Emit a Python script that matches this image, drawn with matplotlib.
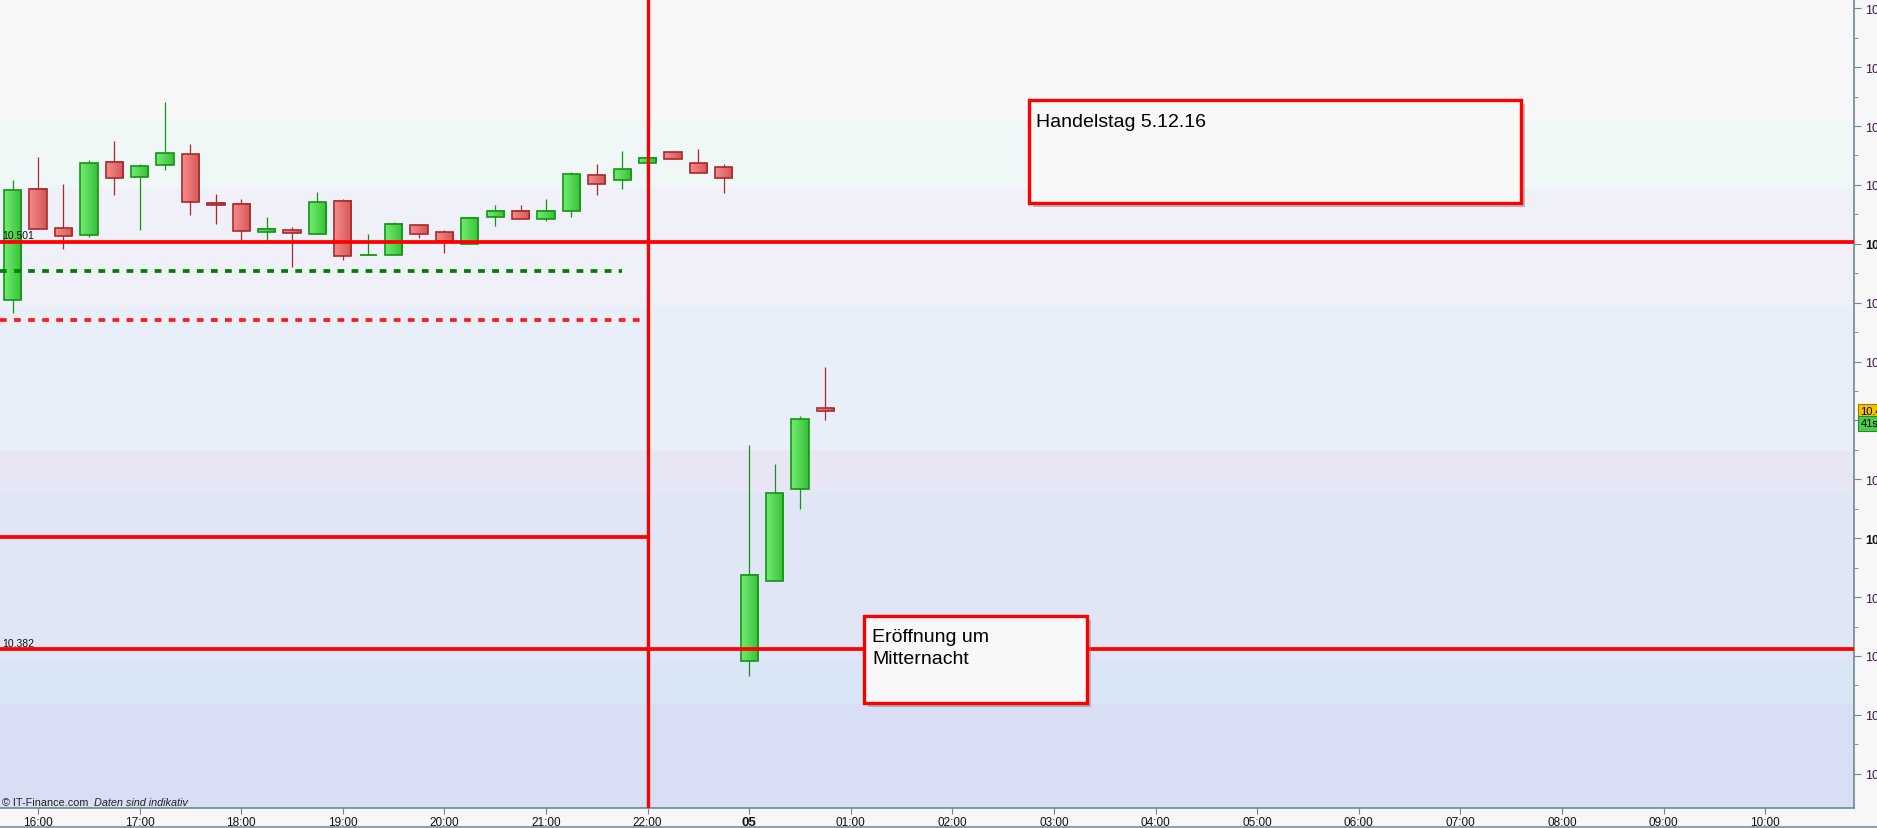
import matplotlib.pyplot as plt
import matplotlib.patheffects as pe
from matplotlib.patches import Rectangle
from matplotlib.lines import Line2D
from matplotlib import transforms
from matplotlib.colors import to_rgb
import numpy as np

plt.rcParams['font.family'] = ['Liberation Sans', 'DejaVu Sans']

# 15 minute candles (the 23:00 hour is skipped by the chart)
times = ['15:45', '16:00', '16:15', '16:30', '16:45', '17:00', '17:15', '17:30', '17:45',
         '18:00', '18:15', '18:30', '18:45', '19:00', '19:15', '19:30', '19:45',
         '20:00', '20:15', '20:30', '20:45', '21:00', '21:15', '21:30', '21:45',
         '22:00', '22:15', '22:30', '22:45', '00:00', '00:15', '00:30', '00:45']
opens = [10.4839, 10.5164, 10.5049, 10.5031, 10.5242, 10.5198, 10.5233, 10.5265, 10.5122,
         10.5119, 10.5037, 10.5043, 10.5033, 10.5128, 10.4971, 10.4970, 10.5058,
         10.5037, 10.5002, 10.5081, 10.5101, 10.5075, 10.5099, 10.5204, 10.5189,
         10.5239, 10.5271, 10.5239, 10.5227, 10.3784, 10.4018, 10.4287, 10.4523]
highs = [10.5190, 10.5257, 10.5178, 10.5249, 10.5304, 10.5236, 10.5418, 10.5295, 10.5149,
         10.5135, 10.5082, 10.5053, 10.5155, 10.5135, 10.5032, 10.5067, 10.5062,
         10.5044, 10.5082, 10.5117, 10.5117, 10.5135, 10.5213, 10.5237, 10.5275,
         10.5256, 10.5271, 10.5281, 10.5237, 10.4416, 10.4361, 10.4500, 10.4644]
lows = [10.4802, 10.5046, 10.4990, 10.5025, 10.5147, 10.5045, 10.5220, 10.5089, 10.5063,
        10.5013, 10.5013, 10.4937, 10.5033, 10.4957, 10.4971, 10.4970, 10.5022,
        10.4978, 10.5002, 10.5057, 10.5075, 10.5071, 10.5083, 10.5147, 10.5165,
        10.5239, 10.5252, 10.5212, 10.5153, 10.3742, 10.4018, 10.4230, 10.4490]
closes = [10.5160, 10.5046, 10.5028, 10.5239, 10.5195, 10.5230, 10.5268, 10.5125, 10.5116,
          10.5040, 10.5046, 10.5036, 10.5125, 10.4967, 10.4972, 10.5061, 10.5034,
          10.5013, 10.5078, 10.5099, 10.5075, 10.5101, 10.5207, 10.5180, 10.5221,
          10.5256, 10.5252, 10.5212, 10.5195, 10.4038, 10.4275, 10.4491, 10.4515]

# horizontal levels
level_top = 10.501
level_mid = 10.4149
level_low = 10.382
green_dash = 10.4925
red_dash = 10.4780

xtick_labels = ['16:00', '17:00', '18:00', '19:00', '20:00', '21:00', '22:00', '05',
                '01:00', '02:00', '03:00', '04:00', '05:00', '06:00', '07:00', '08:00',
                '09:00', '10:00']
ytick_vals = [10.5692, 10.5520, 10.5348, 10.5176, 10.5004, 10.4832, 10.4660, 10.4488,
              10.4316, 10.4144, 10.3972, 10.3800, 10.3628, 10.3456]

W, H = 1877, 829
fig = plt.figure(figsize=(W / 100, H / 100), dpi=100, facecolor='#f7f7f7')
ax = fig.add_axes([0, 20 / H, 1854 / W, 809 / H])
ax.set_facecolor('#f7f7f7')

# background bands (pixel rows of the plot area)
band_edges = [0, 123, 189, 307, 452, 493, 661, 705, 809]
band_cols = ['#f7f7f7', '#f0f7f7', '#f0f0f8', '#e9eff8', '#e8e6f5', '#e0e6f5', '#d9e6f5', '#d8dff5']
for i in range(len(band_cols)):
    y0 = 1 - band_edges[i + 1] / 809
    y1 = 1 - band_edges[i] / 809
    ax.add_patch(Rectangle((0, y0), 1, y1 - y0, transform=ax.transAxes,
                           facecolor=band_cols[i], edgecolor='none', zorder=0))


def grad(c1, c2, n=24):
    a = np.linspace(0, 1, n)[None, :, None]
    return (1 - a) * np.array(to_rgb(c1))[None, None, :] + a * np.array(to_rgb(c2))[None, None, :]


g_grad = grad('#70ec70', '#38c038')
r_grad = grad('#f78a8a', '#d45656')
bw = 0.68
for i in range(len(times)):
    o, h, l, c = opens[i], highs[i], lows[i], closes[i]
    up = c >= o
    ec = '#149414' if up else '#a82a2a'
    ax.vlines(i, l, h, color=ec, lw=0.9, zorder=2)
    lo, hi = min(o, c), max(o, c)
    if hi - lo < 0.0003:
        ax.hlines(lo, i - bw / 2, i + bw / 2, color=ec, lw=1.3, zorder=3)
        continue
    ax.imshow(g_grad if up else r_grad, extent=(i - bw / 2, i + bw / 2, lo, hi),
              aspect='auto', interpolation='bilinear', zorder=3)
    ax.add_patch(Rectangle((i - bw / 2, lo), bw, hi - lo, fill=False, edgecolor=ec, lw=1.2, zorder=4))

# levels and separator
ax.axhline(level_top, color='#ff0000', lw=2.7, zorder=5)
ax.axhline(level_low, color='#ff0000', lw=2.7, zorder=5)
ax.hlines(level_mid, -0.5, 25, color='#ff0000', lw=2.7, zorder=5)
ax.hlines(green_dash, -0.5, 24.0, color='#008000', lw=2.7, linestyles=(0, (1.8, 1.95)), zorder=5)
ax.hlines(red_dash, -0.5, 25, color='#ff1a1a', lw=2.7, linestyles=(0, (1.8, 1.95)), zorder=5)
ax.axvline(25, color='#ff0000', lw=2.4, zorder=5)

ax.text(-0.42, level_top + 0.0004, '10.501', fontsize=7.5, va='bottom', color='#111111', zorder=6)
ax.text(-0.42, level_low + 0.0004, '10.382', fontsize=7.5, va='bottom', color='#111111', zorder=6)

# note boxes
shadow = [pe.SimplePatchShadow(offset=(3, -3), shadow_rgbFace='#808080', alpha=0.5), pe.Normal()]
ax.add_patch(Rectangle((40.0, 10.5123), 19.4, 0.0301, facecolor='#f8f8f8', edgecolor='#ff0000',
                       lw=2.4, zorder=6, path_effects=shadow))
ax.text(40.3, 10.5386, 'Handelstag 5.12.16', fontsize=14, va='top', zorder=7)
ax.add_patch(Rectangle((33.5, 10.3662), 8.8, 0.0255, facecolor='#f8f8f8', edgecolor='#ff0000',
                       lw=2.4, zorder=6, path_effects=shadow))
ax.text(33.83, 10.3882, 'Eröffnung um\nMitternacht', fontsize=14, va='top', linespacing=1.42, zorder=7)

ax.set_xlim(-0.5, 72.5)
ax.set_ylim(10.3356, 10.5719)

# axes styling
for s in ['top', 'left']:
    ax.spines[s].set_visible(False)
for s in ['bottom', 'right']:
    ax.spines[s].set_color('#6f8892')
    ax.spines[s].set_linewidth(1.2)

xtick_pos = np.arange(1, 1 + 4 * len(xtick_labels), 4)
ax.set_xticks(xtick_pos)
ax.set_xticklabels(xtick_labels)
ax.tick_params(axis='x', length=4, color='#6f8892', labelsize=8.5, pad=2, labelcolor='#111111')
for t in ax.get_xticklabels():
    if t.get_text() == '05':
        t.set_fontweight('bold')
        t.set_fontsize(9.5)

ax.yaxis.tick_right()
ax.set_yticks(ytick_vals)
ylabels = [f'{v:.3f}' for v in ytick_vals]
ylabels[7] = ''
ax.set_yticklabels(ylabels)
minor = [(ytick_vals[k] + ytick_vals[k + 1]) / 2 for k in range(len(ytick_vals) - 1)]
ax.set_yticks(minor, minor=True)
ax.tick_params(axis='y', which='major', length=5, color='#6f8892', labelsize=9, pad=3,
               labelcolor='#3c1450')
ax.tick_params(axis='y', which='minor', length=3, color='#6f8892')
for k in (4, 9):
    ax.get_yticklabels()[k].set_fontweight('bold')
    ax.get_yticklabels()[k].set_color('#111111')

# last price marker
trans = transforms.blended_transform_factory(ax.transAxes, ax.transData)
ax.text(1.0035, closes[-1], f'{closes[-1]:.3f}', transform=trans, fontsize=8, va='center', ha='left',
        bbox=dict(boxstyle='square,pad=0.2', fc='#f2c200', ec='#9a7a00', lw=0.8), clip_on=False, zorder=10)
ax.annotate('41s', xy=(1.0035, closes[-1]), xycoords=trans, xytext=(0, -8.8), textcoords='offset points',
            fontsize=8, va='center', ha='left', annotation_clip=False,
            bbox=dict(boxstyle='square,pad=0.2', fc='#4ccc4c', ec='#2a8a2a', lw=0.8), zorder=10)

fig.text(2 / W, 23 / H, '© IT-Finance.com', fontsize=7.8, va='baseline', color='#222222')
fig.text(94 / W, 23 / H, 'Daten sind indikativ', fontsize=7.8, va='baseline', style='italic', color='#222222')
fig.add_artist(Line2D([0, 1], [1.5 / H, 1.5 / H], color='#7a8f99', lw=1.2))

fig.savefig('out.png', dpi=100, facecolor=fig.get_facecolor())
